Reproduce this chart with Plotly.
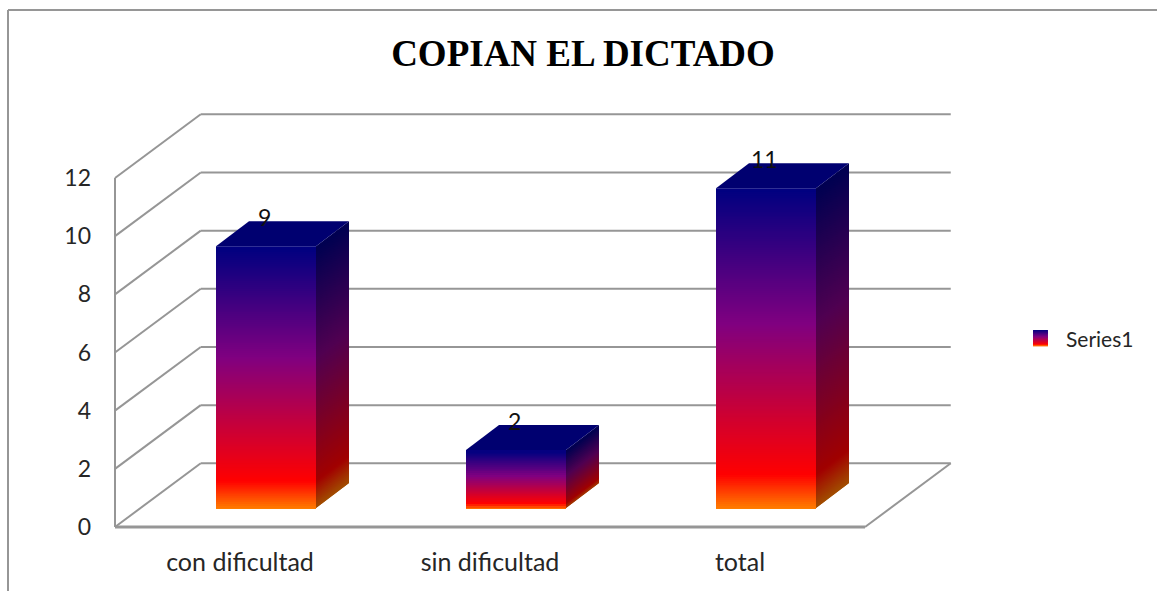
"""Copian el dictado: fake-3D gradient columns drawn on a cartesian plot."""
import plotly.graph_objects as go

# ── Data ──────────────────────────────────────────────────────────────
categories = ["con dificultad", "sin dificultad", "total"]
values = [9, 2, 11]
y_ticks = [0, 2, 4, 6, 8, 10, 12]

# ── Look ──────────────────────────────────────────────────────────────
W, H = 1157, 591
GRID = "#969696"
TEXT = "#262626"
FONT = "Lato, sans-serif"
# bottom to top of a column
STOPS = [(0.0, (255, 130, 0)), (0.11, (255, 0, 0)), (0.58, (128, 0, 128)), (1.0, (0, 0, 128))]
TOP_FACE = "#000070"
SIDE_DARK = 0.63
SLICES_PER_UNIT = 15
LAP = 0.06

# oblique projection, in axis units
WALL_DX, WALL_DY = 0.343, 2.19    # floor depth
BAR_DX, BAR_DY = 0.132, 0.86      # column depth
BAR_SHIFT_X, BAR_BASE = 0.104, 0.65  # where the column stands on the floor
BAR_W = 0.4
X_MIN, X_MAX = -0.5, 2.5

M = dict(l=110, r=197, t=105, b=56)
X_RANGE = [-0.52, 2.88]
Y_RANGE = [-0.275, 14.51]


def ramp(f, k=1.0):
    for (f0, c0), (f1, c1) in zip(STOPS, STOPS[1:]):
        if f <= f1:
            t = (f - f0) / (f1 - f0)
            rgb = [(a + (b - a) * t) * k for a, b in zip(c0, c1)]
            return "rgb({:.0f},{:.0f},{:.0f})".format(*rgb)
    return "rgb(0,0,128)"


def px_x(p):
    return (p - M["l"]) / (W - M["l"] - M["r"])


def px_y(p):
    return 1 - (p - M["t"]) / (H - M["t"] - M["b"])


def poly(pts, fill, ref=("x", "y"), layer="above"):
    path = "M " + " L ".join(f"{x:.4f} {y:.4f}" for x, y in pts) + " Z"
    return dict(type="path", path=path, xref=ref[0], yref=ref[1], layer=layer,
                fillcolor=fill, line_width=0)


def seg(x0, y0, x1, y1, width=2, ref=("x", "y")):
    return dict(type="line", x0=x0, y0=y0, x1=x1, y1=y1, xref=ref[0], yref=ref[1],
                layer="below", line=dict(color=GRID, width=width))


shapes = []

# ── Walls and floor ───────────────────────────────────────────────────
for v in y_ticks:
    shapes.append(seg(X_MIN, v, X_MIN + WALL_DX, v + WALL_DY))
    shapes.append(seg(X_MIN + WALL_DX, v + WALL_DY, X_MAX + WALL_DX, v + WALL_DY))
shapes.append(seg(X_MIN, 0, X_MIN, y_ticks[-1]))
shapes.append(seg(X_MIN, 0, X_MAX, 0, width=3))
shapes.append(seg(X_MAX, 0, X_MAX + WALL_DX, WALL_DY))

# ── Columns: front face as thin stacked bars ──────────────────────────
bar_x, bar_y, bar_base, bar_color = [], [], [], []
for i, v in enumerate(values):
    n = v * SLICES_PER_UNIT
    h = v / n
    x0 = i + BAR_SHIFT_X - BAR_W / 2
    x1 = x0 + BAR_W
    for s in range(n):
        f = (s + 0.5) / n
        lo = BAR_BASE + s * h - (LAP if s else 0)
        hi = BAR_BASE + (s + 1) * h
        bar_x.append(i + BAR_SHIFT_X)
        bar_y.append(hi - lo)
        bar_base.append(lo)
        bar_color.append(ramp(f))
        shapes.append(poly([(x1, lo), (x1 + BAR_DX, lo + BAR_DY),
                            (x1 + BAR_DX, hi + BAR_DY), (x1, hi)], ramp(f, SIDE_DARK)))
    top = BAR_BASE + v
    shapes.append(poly([(x0, top), (x0 + BAR_DX, top + BAR_DY),
                        (x1 + BAR_DX, top + BAR_DY), (x1, top)], TOP_FACE))

fig = go.Figure(go.Bar(
    x=bar_x, y=bar_y, base=bar_base, width=BAR_W,
    marker=dict(color=bar_color, line_width=0),
    hoverinfo="skip", showlegend=False,
))

# ── Legend swatch and frame ───────────────────────────────────────────
PAPER = ("paper", "paper")
for s in range(16):
    f = 1 - (s + 0.5) / 16
    shapes.append(poly([(px_x(1033), px_y(330 + s)), (px_x(1048), px_y(330 + s)),
                        (px_x(1048), px_y(331.4 + s)), (px_x(1033), px_y(331.4 + s))],
                       ramp(f), ref=PAPER))
shapes.append(seg(px_x(8), px_y(10), px_x(W), px_y(10), ref=PAPER))
shapes.append(seg(px_x(8), px_y(10), px_x(8), px_y(H), ref=PAPER))

# ── Value labels ──────────────────────────────────────────────────────
annotations = [
    dict(x=i + BAR_SHIFT_X - 0.008, y=BAR_BASE + v + BAR_DY + 0.14, text=str(v), showarrow=False,
         font=dict(family=FONT, size=23, color="#111111"))
    for i, v in enumerate(values)
]
annotations.append(dict(x=px_x(1064), y=px_y(338), xref="paper", yref="paper", xanchor="left",
                        text="Series1", showarrow=False,
                        font=dict(family=FONT, size=21, color=TEXT)))

fig.update_layout(
    width=W, height=H, margin=M, barmode="overlay",
    paper_bgcolor="white", plot_bgcolor="white", showlegend=False,
    title=dict(text="<b>COPIAN EL DICTADO</b>", x=583 / W, xanchor="center", xref="container",
               y=1 - 53 / H, yanchor="middle", yref="container",
               font=dict(family="Liberation Serif, serif", size=37, color="#000000")),
    xaxis=dict(range=X_RANGE, tickmode="array", tickvals=list(range(len(categories))),
               ticktext=categories, showgrid=False, zeroline=False, showline=False,
               ticks="", ticklabelstandoff=10,
               tickfont=dict(family=FONT, size=25, color=TEXT)),
    yaxis=dict(range=Y_RANGE, tickmode="array", tickvals=y_ticks, showgrid=False,
               zeroline=False, showline=False, ticks="", ticklabelstandoff=18,
               tickfont=dict(family=FONT, size=23, color=TEXT)),
    shapes=shapes, annotations=annotations,
)

fig.write_html("out.html", config={"displayModeBar": False},
               post_script="document.body.style.margin='0';document.body.style.overflow='hidden';")
